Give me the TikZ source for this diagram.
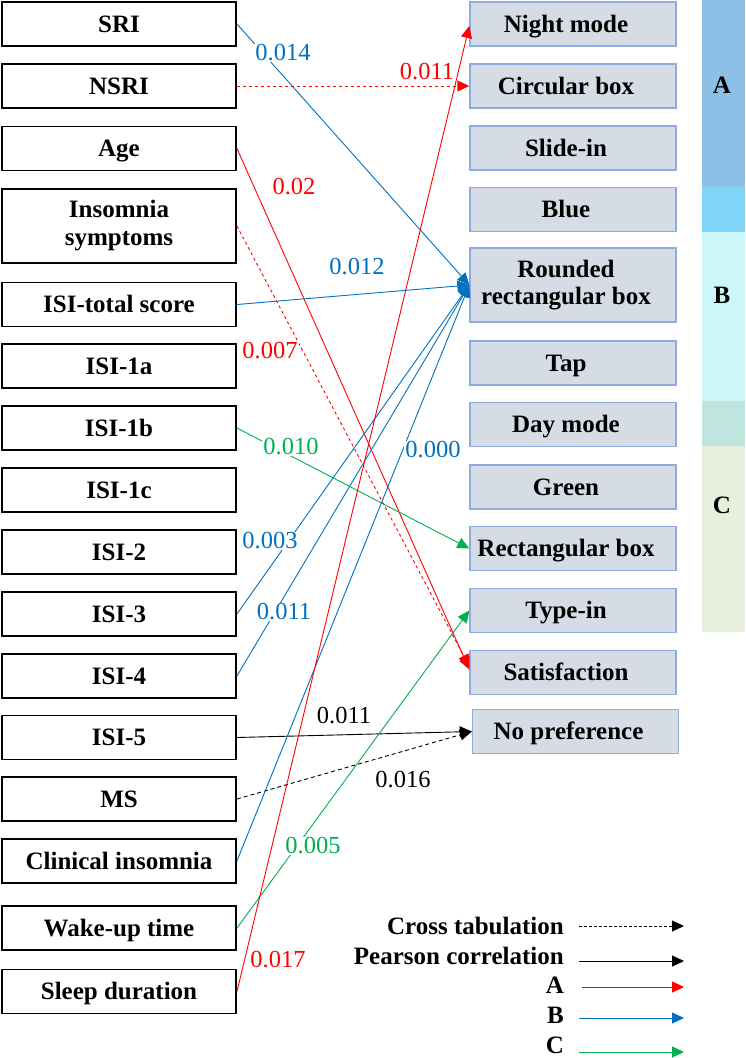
\documentclass[tikz,border=0pt]{standalone}
\usepackage{fontspec}
\setmainfont{Liberation Serif}
\usetikzlibrary{arrows.meta}

\definecolor{cA}{RGB}{255,0,0}
\definecolor{cB}{RGB}{0,112,192}
\definecolor{cC}{RGB}{0,176,80}
\definecolor{optfill}{RGB}{214,220,229}
\definecolor{optline}{RGB}{143,170,220}
\definecolor{stripA}{RGB}{141,192,230}
\definecolor{stripAB}{RGB}{128,212,247}
\definecolor{stripB}{RGB}{204,247,250}
\definecolor{stripBC}{RGB}{190,230,222}
\definecolor{stripC}{RGB}{230,240,220}

\tikzset{
  varbox/.style={draw=black, line width=1.9pt, minimum width=234pt, minimum height=44pt,
    inner sep=0pt, align=center, text height=22.5pt, text depth=6pt,
    font=\bfseries\fontsize{25}{28}\selectfont},
  optbox/.style={draw=optline, fill=optfill, line width=1.4pt, minimum width=206pt, minimum height=44pt,
    inner sep=0pt, align=center, text height=22.5pt, text depth=6pt,
    font=\bfseries\fontsize{25}{27}\selectfont, execute at end node={\kern14pt}},
  twolines/.style={minimum height=74pt, text height=, text depth=},
  numlbl/.style={fill=white, inner sep=1pt, font=\fontsize{24.5}{26}\selectfont},
  lgtext/.style={inner sep=0pt, font=\bfseries\fontsize{25}{26}\selectfont},
  link/.style={line width=0.9pt, -{Triangle[length=12pt,width=11pt]}},
}

\begin{document}
\begin{tikzpicture}[x=1pt, y=-1pt]
  \useasboundingbox (0,0) rectangle (745,1058);

  % groups on the right
  \fill[stripA]  (702,0)   rectangle (745,187);
  \fill[stripAB] (702,187) rectangle (745,232);
  \fill[stripB]  (702,232) rectangle (745,401);
  \fill[stripBC] (702,401) rectangle (745,446);
  \fill[stripC]  (702,446) rectangle (745,632);
  \node[lgtext] (grpA) at (722,85)  {A};
  \node[lgtext] (grpB) at (722,295) {B};
  \node[lgtext] (grpC) at (722,505) {C};

  % variables
  \node[varbox] (SRI)    at (119,24)    {SRI};
  \node[varbox] (NSRI)   at (119,86)    {NSRI};
  \node[varbox] (Age)    at (119,148.5) {Age};
  \node[varbox, twolines] (Insom) at (119,226) {Insomnia\\symptoms};
  \node[varbox] (ISItot) at (119,304.5) {ISI-total score};
  \node[varbox] (ISIa)   at (119,366)   {ISI-1a};
  \node[varbox] (ISIb)   at (119,428)   {ISI-1b};
  \node[varbox] (ISIc)   at (119,490)   {ISI-1c};
  \node[varbox] (ISItwo) at (119,552)   {ISI-2};
  \node[varbox] (ISIthr) at (119,614)   {ISI-3};
  \node[varbox] (ISIfou) at (119,676)   {ISI-4};
  \node[varbox] (ISIfiv) at (119,737.5) {ISI-5};
  \node[varbox] (MS)     at (119,799)   {MS};
  \node[varbox] (Clin)   at (119,861)   {Clinical insomnia};
  \node[varbox] (Wake)   at (119,928)   {Wake-up time};
  \node[varbox] (Sleep)  at (119,991.5) {Sleep duration};

  % preferences
  \node[optbox] (Night)  at (573,24)    {Night mode};
  \node[optbox] (Circ)   at (573,86)    {Circular box};
  \node[optbox] (Slide)  at (573,148)   {Slide-in};
  \node[optbox] (Blue)   at (573,209.5) {Blue};
  \node[optbox, twolines] (Round) at (573,285) {Rounded\\rectangular box};
  \node[optbox] (Tap)    at (573,363)   {Tap};
  \node[optbox] (Day)    at (573,424.5) {Day mode};
  \node[optbox] (Green)  at (573,487)   {Green};
  \node[optbox] (Rect)   at (573,548.5) {Rectangular box};
  \node[optbox] (Type)   at (573,610.5) {Type-in};
  \node[optbox] (Satis)  at (573,672.5) {Satisfaction};
  \node[optbox] (NoPref) at (575.5,731.5) {No preference};

  % links
  \draw[link, cB] (SRI.east) -- (Round.west);
  \draw[link, cA, dashed] (NSRI.east) -- (Circ.west);
  \draw[link, cA] (Age.east) -- ([yshift=3pt]Satis.west);
  \draw[link, cA, dashed] (Insom.east) -- ([yshift=6pt]Satis.west);
  \draw[link, cB] (ISItot.east) -- (Round.west);
  \draw[link, cC] (ISIb.east) -- (Rect.west);
  \draw[link, cB] (ISIthr.east) -- (Round.west);
  \draw[link, cB] (ISIfou.east) -- (Round.west);
  \draw[link, black] (ISIfiv.east) -- (NoPref.west);
  \draw[link, black, dash pattern=on 4pt off 3pt] (MS.east) -- (NoPref.west);
  \draw[link, cB] (Clin.east) -- (Round.west);
  \draw[link, cC] (Wake.east) -- (Type.west);
  \draw[link, cA] (Sleep.east) -- ([yshift=-2pt]Night.west);

  % values
  \node[numlbl, text=cB] (vSRI)   at (283,53)  {0.014};
  \node[numlbl, text=cA] (vNSRI)  at (427,72)  {0.011};
  \node[numlbl, text=cA] (vAge)   at (294,187) {0.02};
  \node[numlbl, text=cB] (vTot)   at (357,267) {0.012};
  \node[numlbl, text=cA] (vInsom) at (270,351) {0.007};
  \node[numlbl, text=cC] (vISIb)  at (291,447) {0.010};
  \node[numlbl, text=cB] (vClin)  at (433,450) {0.000};
  \node[numlbl, text=cB] (vThr)   at (270,541) {0.003};
  \node[numlbl, text=cB] (vFou)   at (284,612) {0.011};
  \node[numlbl, text=black] (vFiv) at (344,716) {0.011};
  \node[numlbl, text=black] (vMS)  at (403,780) {0.016};
  \node[numlbl, text=cC] (vWake)  at (313,846) {0.005};
  \node[numlbl, text=cA] (vSleep) at (278,960) {0.017};

  % legend
  \node[lgtext, anchor=base east] (lgCross) at (564,934)  {Cross tabulation};
  \node[lgtext, anchor=base east] (lgPear)  at (564,964)  {Pearson correlation};
  \node[lgtext, anchor=base east] (lgA)     at (564,993)  {A};
  \node[lgtext, anchor=base east] (lgB)     at (564,1023) {B};
  \node[lgtext, anchor=base east] (lgC)     at (564,1053) {C};
  \coordinate (csS) at (579,926);  \coordinate (csE) at (684,926);
  \coordinate (prS) at (579,961);  \coordinate (prE) at (684,961);
  \coordinate (aS)  at (582,987);  \coordinate (aE)  at (684,987);
  \coordinate (bS)  at (579,1018); \coordinate (bE)  at (684,1018);
  \coordinate (cS)  at (579,1052); \coordinate (cE)  at (684,1052);
  \draw[link, black, dash pattern=on 3pt off 2pt] (csS) -- (csE);
  \draw[link, black] (prS) -- (prE);
  \draw[link, cA] (aS) -- (aE);
  \draw[link, cB] (bS) -- (bE);
  \draw[link, cC] (cS) -- (cE);
\end{tikzpicture}
\end{document}
